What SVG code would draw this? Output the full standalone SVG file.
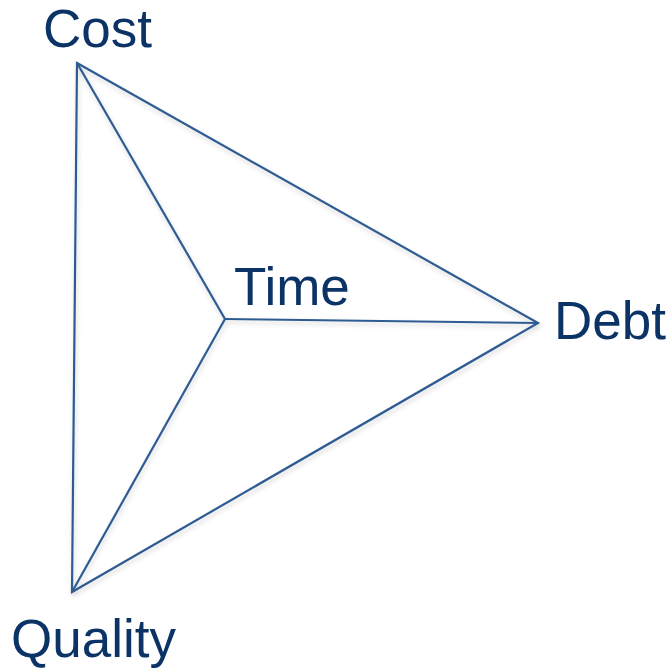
<svg xmlns="http://www.w3.org/2000/svg" width="671" height="670" viewBox="0 0 671 670">
  <defs>
    <style>
      .edge { fill: none; stroke: #2f5b92; stroke-width: 2.2; stroke-linejoin: miter; }
      .label { font-family: "Liberation Sans", Arial, sans-serif; font-size: 53px; fill: #0b3366; }
    </style>
    <filter id="shadow" x="-10%" y="-10%" width="120%" height="120%">
      <feGaussianBlur in="SourceAlpha" stdDeviation="2.5"/>
      <feOffset dx="1" dy="3" result="b"/>
      <feComponentTransfer><feFuncA type="linear" slope="0.18"/></feComponentTransfer>
      <feMerge><feMergeNode/><feMergeNode in="SourceGraphic"/></feMerge>
    </filter>
  </defs>
  <rect width="671" height="670" fill="#ffffff"/>
  <g id="connectors" filter="url(#shadow)">
    <polygon class="edge" points="77,63 538,323 72,592"/>
    <line class="edge" x1="77" y1="63" x2="225" y2="319"/>
    <line class="edge" x1="225" y1="319" x2="538" y2="323"/>
    <line class="edge" x1="225" y1="319" x2="72" y2="592"/>
  </g>
  <g id="cost"><text class="label" x="43" y="47">Cost</text></g>
  <g id="time"><text class="label" x="234" y="305">Time</text></g>
  <g id="debt"><text class="label" x="554" y="339">Debt</text></g>
  <g id="quality"><text class="label" x="11" y="657">Quality</text></g>
</svg>
